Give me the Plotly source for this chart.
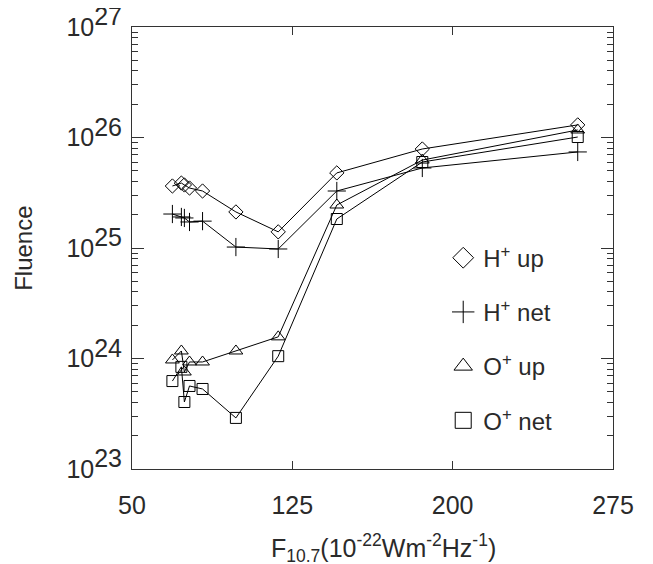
import plotly.graph_objects as go

f107 = [68.9, 73.1, 74.5, 76.9, 83.0, 98.6, 118.4, 145.8, 185.8, 258.5]
h_up = [3.64e25, 3.87e25, 3.72e25, 3.49e25, 3.28e25, 2.12e25, 1.40e25, 4.78e25, 7.87e25, 1.30e26]
h_net = [2.03e25, 1.91e25, 1.87e25, 1.72e25, 1.75e25, 1.02e25, 0.98e25, 3.28e25, 5.30e25, 7.40e25]
o_up = [9.7e23, 1.17e24, 7.55e23, 9.3e23, 9.3e23, 1.17e24, 1.57e24, 2.45e25, 6.25e25, 1.17e26]
o_net = [6.25e23, 8.4e23, 4.04e23, 5.64e23, 5.3e23, 2.9e23, 1.05e24, 1.83e25, 6.0e25, 1.01e26]

ytick_vals = [1e23, 1e24, 1e25, 1e26, 1e27]
ytick_exp = ["23", "24", "25", "26", "27"]
xtick_vals = [50, 125, 200, 275]

series = [
    ("H<sup>+</sup> up", h_up, "diamond-open", 11),
    ("H<sup>+</sup> net", h_net, "cross-thin-open", 13),
    ("O<sup>+</sup> up", o_up, "triangle-up-open", 12),
    ("O<sup>+</sup> net", o_net, "square-open", 11),
]

fig = go.Figure()
for i, (name, vals, sym, sz) in enumerate(series):
    fig.add_trace(go.Scatter(
        x=f107, y=vals, mode="lines+markers", showlegend=False,
        line=dict(color="black", width=1),
        marker=dict(symbol=sym, size=sz, color="black", line=dict(color="black", width=1)),
    ))
    fig.add_trace(go.Scatter(
        x=[None], y=[None], mode="markers", name=name, legendgroup=f"g{i}",
        marker=dict(symbol=sym, size=20, color="black", line=dict(color="black", width=1)),
    ))

txtcol = "#2a2a2a"
font = dict(family="Liberation Sans, Arial, sans-serif", size=25, color=txtcol)

fig.update_layout(
    width=653, height=564,
    margin=dict(l=124, r=48, t=19, b=103),
    paper_bgcolor="white", plot_bgcolor="white",
    font=font,
    showlegend=True,
    legend=dict(x=0.647, y=0.528, xanchor="left", yanchor="top",
                bgcolor="rgba(0,0,0,0)", tracegroupgap=20,
                font=dict(size=24, color=txtcol), itemwidth=30),
    xaxis=dict(range=[50, 275], tickvals=xtick_vals, automargin=False,
               showline=True, linecolor="#333", linewidth=1, mirror="ticks",
               ticks="inside", ticklen=8, tickcolor="#333",
               showgrid=False, zeroline=False, ticklabelstandoff=14,
               ticklabeloverflow="allow", tickfont=dict(size=25)),
    yaxis=dict(type="log", range=[23, 27], automargin=False,
               tickvals=ytick_vals,
               ticktext=["10<sup><span style='font-size:25px'>" + e + "</span></sup>" for e in ytick_exp],
               showline=True, linecolor="#333", linewidth=1, mirror="ticks",
               ticks="inside", ticklen=12, tickcolor="#333",
               minor=dict(ticks="inside", ticklen=6, dtick="D1", tickcolor="#333", showgrid=False),
               showgrid=False, zeroline=False, ticklabelstandoff=4,
               ticklabeloverflow="allow", tickfont=dict(size=25)),
    annotations=[
        dict(text="F<sub>10.7</sub>(10<sup>-22</sup>Wm<sup>-2</sup>Hz<sup>-1</sup>)",
             xref="paper", yref="paper", x=0.522, y=(469 - 548) / 442,
             xanchor="center", yanchor="middle", showarrow=False,
             font=dict(size=25, color=txtcol)),
        dict(text="Fluence", textangle=-90,
             xref="paper", yref="paper", x=(24 - 132) / 476, y=(469 - 248) / 442,
             xanchor="center", yanchor="middle", showarrow=False,
             font=dict(size=24, color=txtcol)),
    ],
)

fig.write_html("out.html")
